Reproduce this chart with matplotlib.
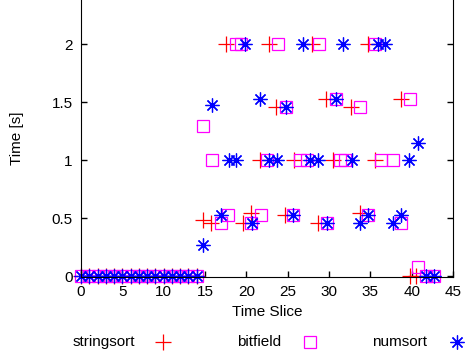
import numpy as np
import matplotlib
matplotlib.use("Agg")
import matplotlib.pyplot as plt
from matplotlib.lines import Line2D

plt.rcParams['font.family'] = ['Liberation Sans', 'DejaVu Sans']

# time slices 0..14 idle for every sorter
idle = list(range(15))

# stringsort (+)
str_x = idle + [14.7, 15.7, 17.6, 19.6, 20.6, 21.6, 22.7, 23.6, 24.7, 25.8, 27.9,
                28.7, 29.6, 30.5, 32.7, 33.8, 34.7, 35.6, 38.7, 39.8, 40.5]
str_y = [0] * 15 + [0.48, 0.46, 2.0, 0.46, 0.54, 1.0, 2.0, 1.46, 0.53, 1.0, 2.0,
                    0.46, 1.53, 1.0, 1.46, 0.54, 2.0, 1.0, 1.53, 0.0, 0.0]

# bitfield (square)
bit_x = idle + [14.8, 15.8, 16.9, 17.8, 18.7, 19.4, 20.6, 21.8, 22.5, 23.8, 24.8,
                25.7, 26.5, 27.3, 28.8, 29.7, 30.8, 31.3, 31.9, 33.8, 34.7, 35.6,
                36.3, 37.7, 38.7, 39.8, 40.8, 41.7, 42.7]
bit_y = [0] * 15 + [1.29, 1.0, 0.46, 0.53, 2.0, 2.0, 0.46, 0.53, 1.0, 2.0, 1.46,
                    0.53, 1.0, 1.0, 2.0, 0.46, 1.53, 1.0, 1.0, 1.46, 0.53, 2.0,
                    1.0, 1.0, 0.46, 1.53, 0.08, 0.0, 0.0]

# numsort (star)
num_x = idle + [14.7, 15.8, 16.9, 17.9, 18.8, 19.8, 20.7, 21.7, 22.8, 23.7, 24.8,
                25.7, 26.8, 27.7, 28.7, 29.7, 30.8, 31.7, 32.8, 33.8, 34.7, 35.9,
                36.8, 37.8, 38.7, 39.7, 40.8, 41.7, 42.7]
num_y = [0] * 15 + [0.27, 1.47, 0.53, 1.0, 1.0, 2.0, 0.46, 1.53, 1.0, 1.0, 1.46,
                    0.53, 2.0, 1.0, 1.0, 0.46, 1.53, 2.0, 1.0, 0.46, 0.53, 2.0,
                    2.0, 0.46, 0.53, 1.0, 1.15, 0.0, 0.0]

series = [
    ('stringsort', str_x, str_y, 'red', '+', 11),
    ('bitfield', bit_x, bit_y, 'magenta', 's', 8),
    ('numsort', num_x, num_y, 'blue', (8, 2, 0), 10),
]

fig = plt.figure(figsize=(4.67, 3.52), dpi=100)
ax = fig.add_axes([81 / 467, 1 - 277 / 352, 372 / 467, 277 / 352])

for name, xs, ys, col, mk, ms in series:
    ax.plot(xs, ys, linestyle='none', marker=mk, markersize=ms, color=col,
            markerfacecolor='none', markeredgecolor=col, markeredgewidth=0.9,
            clip_on=False)

ax.set_xlim(0, 45)
ax.set_ylim(-1 / 116, 276 / 116)
ax.set_xticks(np.arange(0, 46, 5))
ax.set_yticks([0, 0.5, 1, 1.5, 2])
ax.set_yticklabels(['0', '0.5', '1', '1.5', '2'])
ax.tick_params(direction='in', length=4, width=1, labelsize=11, right=True, pad=6)
ax.spines['top'].set_visible(False)
ax.set_xlabel('Time Slice', fontsize=11, labelpad=4)
ax.set_ylabel('Time [s]', fontsize=11, labelpad=20)

# gnuplot-style key below the plot: label then sample
key_text_right = [135, 281, 427]
key_marker_x = [163, 310, 457]
key_y = 1 - 342 / 352
for (name, xs, ys, col, mk, ms), tx, mx in zip(series, key_text_right, key_marker_x):
    fig.text(tx / 467, key_y, name, ha='right', va='center', fontsize=11)
    fig.add_artist(Line2D([mx / 467], [key_y], linestyle='none', marker=mk,
                          markersize=ms, color=col, markerfacecolor='none',
                          markeredgecolor=col, markeredgewidth=0.9,
                          transform=fig.transFigure))

fig.savefig('out.png', dpi=100)
